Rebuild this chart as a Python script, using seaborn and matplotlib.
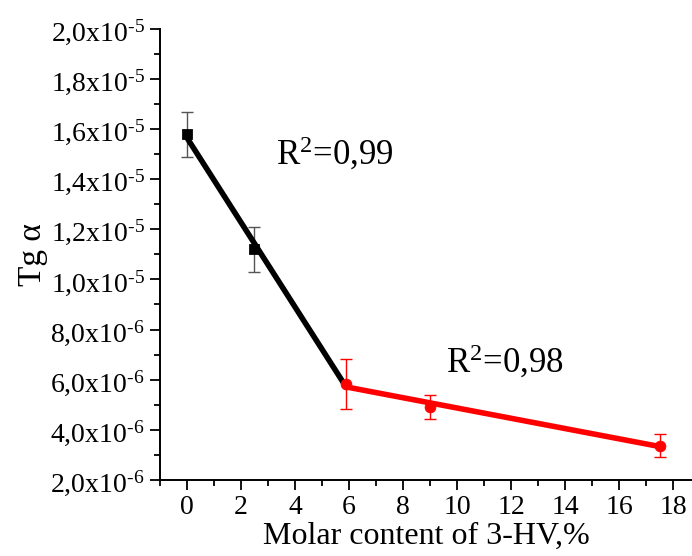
import numpy as np
import pandas as pd
import seaborn as sns
import matplotlib.pyplot as plt
from matplotlib.ticker import FuncFormatter, MultipleLocator

# black series (low 3-HV content)
x_black = [0, 2.5, 5.9]
y_black = [1.58e-5, 1.12e-5, 5.8e-6]
err_black = [0.9e-6, 0.9e-6, 1.0e-6]

# red series (higher 3-HV content)
x_red = [5.9, 9, 17.5]
y_red = [5.82e-6, 4.92e-6, 3.37e-6]
err_red = [1.0e-6, 0.48e-6, 0.45e-6]

r2_black = 'R$^2$=0,99'
r2_red = 'R$^2$=0,98'

sns.set_style('ticks')
plt.rcParams['font.family'] = ['Liberation Serif', 'DejaVu Serif']
plt.rcParams['mathtext.fontset'] = 'custom'
plt.rcParams['mathtext.rm'] = 'Liberation Serif'
plt.rcParams['mathtext.it'] = 'Liberation Serif:italic'
plt.rcParams['text.color'] = 'black'
plt.rcParams['axes.labelcolor'] = 'black'

fig = plt.figure(figsize=(6.92, 5.56), dpi=100)
ax = fig.add_axes([0.231, 0.137, 0.769, 0.811])

df_b = pd.DataFrame({'x': x_black[:2], 'y': y_black[:2]})
df_r = pd.DataFrame({'x': x_red, 'y': y_red})

# error bars
ax.errorbar(x_black[:2], y_black[:2], yerr=err_black[:2], fmt='none',
            ecolor='#555555', elinewidth=1, capsize=4, zorder=2)
ax.errorbar(x_red, y_red, yerr=err_red, fmt='none',
            ecolor='red', elinewidth=1, capsize=4, zorder=2)

# linear fits
sns.regplot(x=x_black, y=y_black, ci=None, truncate=True, scatter=False,
            color='black', line_kws={'lw': 4, 'zorder': 3}, ax=ax)
sns.regplot(x=x_red, y=y_red, ci=None, truncate=True, scatter=False,
            color='red', line_kws={'lw': 4, 'zorder': 3}, ax=ax)

# points
sns.scatterplot(data=df_r, x='x', y='y', color='red', marker='o', s=60,
                edgecolor='red', zorder=4, ax=ax)
sns.scatterplot(data=df_b, x='x', y='y', color='black', marker='s', s=50,
                edgecolor='black', zorder=4, ax=ax)

ax.set_xlim(-1, 18.7)
ax.set_ylim(2e-6, 2e-5)
ax.xaxis.set_major_locator(MultipleLocator(2))
ax.xaxis.set_minor_locator(MultipleLocator(1))
ax.yaxis.set_major_locator(MultipleLocator(2e-6))
ax.yaxis.set_minor_locator(MultipleLocator(1e-6))


def sci_fmt(v, pos):
    if v <= 0:
        return ''
    e = int(np.floor(np.log10(v) + 1e-9))
    m = v / 10 ** e
    return ('%.1f' % m).replace('.', ',') + 'x10$^{\u2010%d}$' % (-e)


ax.yaxis.set_major_formatter(FuncFormatter(sci_fmt))
ax.tick_params(axis='both', which='major', direction='out', length=7,
               width=1.3, labelsize=20, colors='black', pad=4)
ax.tick_params(axis='both', which='minor', direction='out', length=4,
               width=1.3, colors='black')
sns.despine(ax=ax)
for s in ['left', 'bottom']:
    ax.spines[s].set_linewidth(1.4)
    ax.spines[s].set_color('black')

ax.set_xlabel('Molar content of 3-HV,%', fontsize=23, labelpad=1)
ax.set_ylabel('Tg α', fontsize=24, labelpad=2)

ax.text(3.3, 1.5e-5, r2_black, fontsize=25, va='center', ha='left')
ax.text(9.6, 6.7e-6, r2_red, fontsize=25, va='center', ha='left')

fig.savefig('out.png', dpi=100, facecolor='white')
